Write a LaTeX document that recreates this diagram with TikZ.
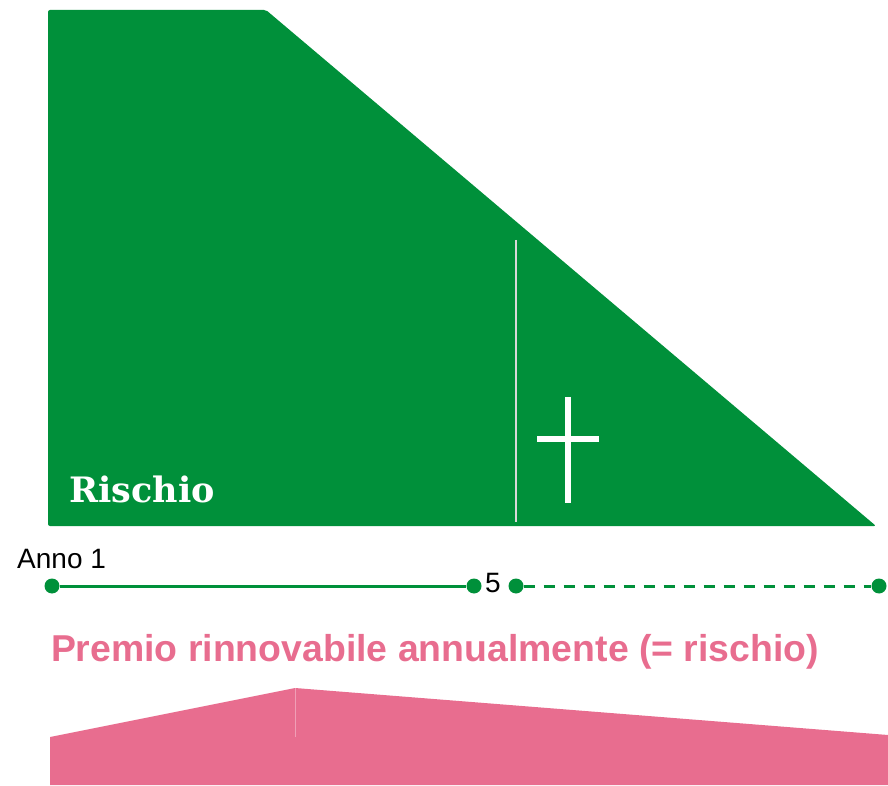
\documentclass[tikz,border=0pt]{standalone}
\usepackage{fontspec}
\setmainfont{Liberation Sans}
\newfontfamily\riskfont{DejaVu Serif}
\definecolor{riskgreen}{HTML}{00903A}
\definecolor{premiumpink}{HTML}{E86D8F}
\begin{document}
\begin{tikzpicture}[x=1pt,y=1pt,every node/.style={inner sep=0pt}]
\useasboundingbox (0,0) rectangle (888,785);
% risk area
\fill[riskgreen,rounded corners=2pt] (48,775) -- (266,775) -- (876,259) -- (48,259) -- cycle;
\draw[black!15,line width=1.5pt] (516,545) -- (516,263);
\draw[white,line width=6pt] (568,388) -- (568,282);
\draw[white,line width=6pt] (537,346) -- (599,346);
\node[anchor=base west,text=white,font=\riskfont\bfseries\fontsize{35}{40}\selectfont] (rischio) at (69,283) {Rischio};
% timeline
\node[circle,fill=riskgreen,minimum size=15pt] (t1) at (52,199) {};
\node[circle,fill=riskgreen,minimum size=15pt] (t5) at (474,199) {};
\node[circle,fill=riskgreen,minimum size=15pt] (t6) at (516,199) {};
\node[circle,fill=riskgreen,minimum size=15pt] (tn) at (879,199) {};
\draw[riskgreen,line width=3pt] (t1) -- (t5);
\draw[riskgreen,line width=3pt,dash pattern=on 11pt off 9pt] (t6) -- (tn);
\node[anchor=base west,font=\fontsize{28}{32}\selectfont] (anno) at (17,217) {Anno 1};
\node[anchor=base west,font=\fontsize{28}{32}\selectfont] (cinque) at (485,193) {5};
% premium
\node[anchor=base,text=premiumpink,font=\bfseries\fontsize{37.4}{42}\selectfont] (premio) at (435,124) {Premio rinnovabile annualmente (= rischio)};
\fill[premiumpink] (50,48) -- (295,97) -- (888,50) -- (888,0) -- (50,0) -- cycle;
\draw[white,opacity=0.35,line width=1pt] (295,97) -- (295,48);
\end{tikzpicture}
\end{document}
